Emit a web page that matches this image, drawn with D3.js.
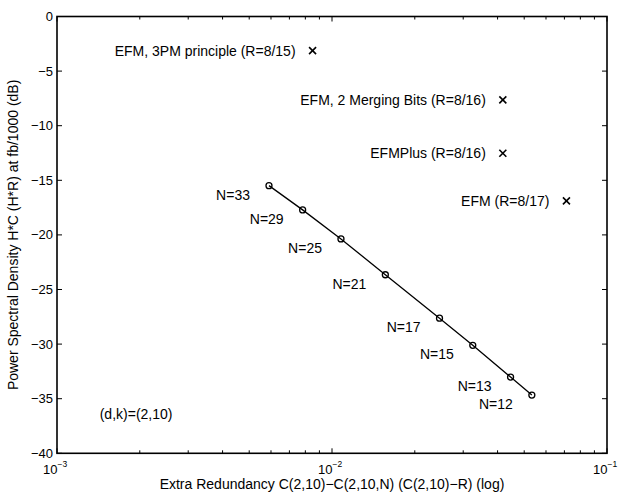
<!DOCTYPE html>
<html>
<head>
<meta charset="utf-8">
<script src="https://cdn.jsdelivr.net/npm/d3@7"></script>
<style>
  html, body { margin: 0; padding: 0; background: #fff; }
  svg { display: block; }
  text { font-family: "Liberation Sans", Arial, sans-serif; fill: #000; }
</style>
</head>
<body>
<svg id="chart" width="618" height="494"></svg>
<script>
// ---- data ----
const codeLabels = ["N=33", "N=29", "N=25", "N=21", "N=17", "N=15", "N=13", "N=12"];
const codeRedundancy = [0.0059, 0.00782, 0.01078, 0.01563, 0.0246, 0.0325, 0.0446, 0.0533];
const codePsd = [-15.49, -17.71, -20.37, -23.65, -27.63, -30.11, -33.02, -34.67];

const refNames = ["EFM, 3PM principle (R=8/15)", "EFM, 2 Merging Bits (R=8/16)", "EFMPlus (R=8/16)", "EFM (R=8/17)"];
const refRedundancy = [0.0085, 0.0418, 0.0418, 0.0712];
const refPsd = [-3.13, -7.63, -12.52, -16.89];

const xTickValues = [1e-3, 1e-2, 1e-1];
const xTickExponents = ["\u22123", "\u22122", "\u22121"];
const yTickValues = [0, -5, -10, -15, -20, -25, -30, -35, -40];
const yTickLabels = ["0", "\u22125", "\u221210", "\u221215", "\u221220", "\u221225", "\u221230", "\u221235", "\u221240"];

const xLabel = "Extra Redundancy C(2,10)\u2212C(2,10,N)  (C(2,10)\u2212R)  (log)";
const yLabel = "Power Spectral Density H*C  (H*R) at fb/1000  (dB)";
const note = "(d,k)=(2,10)";

// ---- layout ----
const W = 618, H = 494;
const m = { left: 57, right: 11, top: 16.5, bottom: 40.7 };
const pw = W - m.left - m.right, ph = H - m.top - m.bottom;

const svg = d3.select("#chart");
const g = svg.append("g").attr("transform", `translate(${m.left},${m.top})`);

const x = d3.scaleLog().domain([1e-3, 1e-1]).range([0, pw]);
const y = d3.scaleLinear().domain([-40, 0]).range([ph, 0]);

// minor ticks for log axis
const minor = [];
[1e-3, 1e-2].forEach(d => { for (let k = 2; k <= 9; k++) minor.push(k * d); });

const tickLen = 5, minorLen = 3;
const axisG = g.append("g").attr("stroke", "#000").attr("stroke-width", 1);

// x major + minor ticks (bottom & top, inward)
xTickValues.forEach(v => {
  const px = x(v);
  axisG.append("line").attr("x1", px).attr("x2", px).attr("y1", ph).attr("y2", ph - tickLen);
  axisG.append("line").attr("x1", px).attr("x2", px).attr("y1", 0).attr("y2", tickLen);
});
minor.forEach(v => {
  const px = x(v);
  axisG.append("line").attr("x1", px).attr("x2", px).attr("y1", ph).attr("y2", ph - minorLen);
  axisG.append("line").attr("x1", px).attr("x2", px).attr("y1", 0).attr("y2", minorLen);
});
// y ticks (left & right, inward)
yTickValues.forEach(v => {
  const py = y(v);
  axisG.append("line").attr("x1", 0).attr("x2", tickLen).attr("y1", py).attr("y2", py);
  axisG.append("line").attr("x1", pw).attr("x2", pw - tickLen).attr("y1", py).attr("y2", py);
});

// box
g.append("rect").attr("x", 0).attr("y", 0).attr("width", pw).attr("height", ph)
  .attr("fill", "none").attr("stroke", "#000").attr("stroke-width", 1.6);

// y tick labels
g.append("g").selectAll("text").data(yTickValues).join("text")
  .attr("x", -4).attr("y", d => y(d)).attr("dy", "0.35em")
  .attr("text-anchor", "end").attr("font-size", 13)
  .text((d, i) => yTickLabels[i]);

// x tick labels: 10^e
const xl = g.append("g").selectAll("text").data(xTickValues).join("text")
  .attr("x", d => x(d) - 14).attr("y", ph + 21)
  .attr("text-anchor", "start").attr("font-size", 13);
xl.append("tspan").text("10");
xl.append("tspan").attr("font-size", 8.5).attr("dy", -7).text((d, i) => xTickExponents[i]);

// axis titles
g.append("text").attr("x", pw / 2).attr("y", ph + 36).attr("text-anchor", "middle")
  .attr("font-size", 14).text(xLabel);
g.append("text").attr("transform", `translate(${-39},${ph / 2}) rotate(-90)`)
  .attr("text-anchor", "middle").attr("font-size", 14).text(yLabel);

// code line with circles
const pts = codeRedundancy.map((r, i) => ({ r, p: codePsd[i], label: codeLabels[i] }));
g.append("path").datum(pts)
  .attr("d", d3.line().x(d => x(d.r)).y(d => y(d.p)))
  .attr("fill", "none").attr("stroke", "#000").attr("stroke-width", 1.3);
g.append("g").selectAll("circle").data(pts).join("circle")
  .attr("cx", d => x(d.r)).attr("cy", d => y(d.p)).attr("r", 3)
  .attr("fill", "none").attr("stroke", "#000").attr("stroke-width", 1.3);
g.append("g").selectAll("text").data(pts).join("text")
  .attr("x", d => x(d.r) - 19).attr("y", d => y(d.p) + 9).attr("dy", "0.35em")
  .attr("text-anchor", "end").attr("font-size", 14).text(d => d.label);

// reference codes: crosses
const refs = refRedundancy.map((r, i) => ({ r, p: refPsd[i], name: refNames[i] }));
const cs = 3.5;
const cg = g.append("g").selectAll("g").data(refs).join("g")
  .attr("transform", d => `translate(${x(d.r)},${y(d.p)})`);
cg.append("line").attr("x1", -cs).attr("y1", -cs).attr("x2", cs).attr("y2", cs)
  .attr("stroke", "#000").attr("stroke-width", 1.6);
cg.append("line").attr("x1", -cs).attr("y1", cs).attr("x2", cs).attr("y2", -cs)
  .attr("stroke", "#000").attr("stroke-width", 1.6);
g.append("g").selectAll("text").data(refs).join("text")
  .attr("x", d => x(d.r) - 17).attr("y", d => y(d.p)).attr("dy", "0.35em")
  .attr("text-anchor", "end").attr("font-size", 14).text(d => d.name);

// annotation
g.append("text").attr("x", x(0.00143)).attr("y", y(-36.4)).attr("dy", "0.35em")
  .attr("font-size", 14).text(note);
</script>
</body>
</html>
